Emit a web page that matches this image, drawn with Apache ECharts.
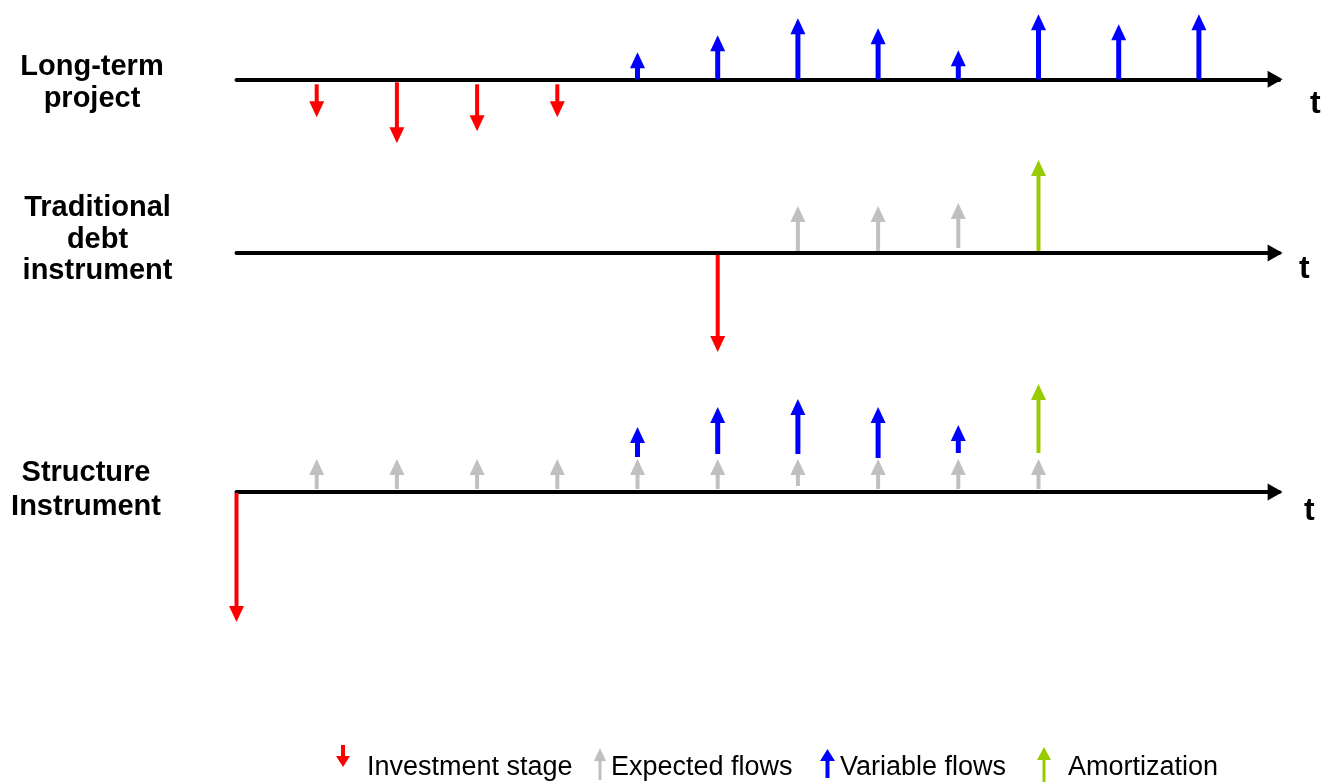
<!DOCTYPE html>
<html>
<head>
<meta charset="utf-8">
<script src="https://cdn.jsdelivr.net/npm/echarts@6/dist/echarts.min.js"></script>
<style>html,body{margin:0;padding:0;background:#fff;}#chart{width:1326px;height:783px;}</style>
</head>
<body>
<div id="chart"></div>
<script>
// ---- data: each arrow is [period, start value, end value] ----
const panelLabels = ['Long-term\nproject', 'Traditional\ndebt\ninstrument', 'Structure\nInstrument'];
const legendNames = ['Investment stage', 'Expected flows', 'Variable flows', 'Amortization'];
const axisName = 't';

const projectInvestment = [[1, -0.5, -3.8], [2, -0.3, -6.4], [3, -0.5, -5.2], [4, -0.5, -3.8]];
const projectVariable = [[5, 0, 2.7], [6, 0, 4.4], [7, 0, 6.1], [8, 0, 5.1], [9, 0, 2.9], [10, 0, 6.5], [11, 0, 5.5], [12, 0, 6.5]];

const debtInvestment = [[6, -0.2, -9.9]];
const debtExpected = [[7, 0.2, 4.7], [8, 0.2, 4.7], [9, 0.5, 5.0]];
const debtAmortization = [[10, 0.2, 9.3]];

const structInvestment = [[0, -0.1, -13.0]];
const structExpected = [[1, 0.3, 3.3], [2, 0.3, 3.3], [3, 0.3, 3.3], [4, 0.3, 3.3], [5, 0.3, 3.3], [6, 0.3, 3.3], [7, 0.6, 3.3], [8, 0.3, 3.3], [9, 0.3, 3.3], [10, 0.3, 3.3]];
const structVariable = [[5, 3.5, 6.5], [6, 3.8, 8.5], [7, 3.8, 9.3], [8, 3.4, 8.5], [9, 3.9, 6.7]];
const structAmortization = [[10, 3.9, 10.8]];

// ---- styling ----
const colors = { 'Investment stage': '#ff0000', 'Expected flows': '#c0c0c0', 'Variable flows': '#0000ff', 'Amortization': '#99cc00' };
const shaftWidths = { 'Investment stage': 4, 'Expected flows': 4, 'Variable flows': 5, 'Amortization': 4 };
const HEAD_LEN = 16, HEAD_W = 15;

function renderArrow(params, api) {
  const name = params.seriesName;
  const color = colors[name];
  const x = api.value(0), a = api.value(1), b = api.value(2);
  const p0 = api.coord([x, a]);
  const p1 = api.coord([x, b]);
  const dir = p1[1] > p0[1] ? 1 : -1;
  const baseY = p1[1] - dir * HEAD_LEN;
  return {
    type: 'group',
    children: [
      { type: 'line', shape: { x1: p0[0], y1: p0[1], x2: p1[0], y2: baseY + dir * 1 }, style: { stroke: color, lineWidth: shaftWidths[name] } },
      { type: 'polygon', shape: { points: [[p1[0], p1[1]], [p1[0] - HEAD_W / 2, baseY], [p1[0] + HEAD_W / 2, baseY]] }, style: { fill: color } }
    ]
  };
}

function arrowSeries(name, panel, data) {
  return {
    type: 'custom', name: name, xAxisIndex: panel, yAxisIndex: panel,
    itemStyle: { color: colors[name] },
    renderItem: renderArrow, data: data, silent: true
  };
}

const GRID_LEFT = 236.5, GRID_RIGHT = 46.9;
const grids = [
  { left: GRID_LEFT, right: GRID_RIGHT, top: 9.3, height: 140 },
  { left: GRID_LEFT, right: GRID_RIGHT, top: 153, height: 210 },
  { left: GRID_LEFT, right: GRID_RIGHT, top: 382, height: 250 }
];
const yRanges = [[-7, 7], [-11, 10], [-14, 11]];
const nameGaps = [31, 20, 25];
const namePads = [49, 32, 38];

const legendDefs = [
  { name: 'Investment stage', left: 336, top: 730.5, w: 14, h: 22, icon: 'path://M5,0 L9,0 L9,11 L14,11 L7,22 L0,11 L5,11 Z', pad: [24, 0, 0, 12] },
  { name: 'Expected flows', left: 594, top: 746.5, w: 12, h: 32, icon: 'path://M6,0 L12,13 L7.5,13 L7.5,32 L4.5,32 L4.5,13 L0,13 Z', pad: [8, 0, 0, 0] },
  { name: 'Variable flows', left: 820, top: 745.5, w: 15, h: 29, icon: 'path://M7.5,0 L15,12 L9.5,12 L9.5,29 L5.5,29 L5.5,12 L0,12 Z', pad: [9, 0, 0, 0] },
  { name: 'Amortization', left: 1037, top: 747, w: 14, h: 35, icon: 'path://M7,0 L14,13 L8.5,13 L8.5,35 L5.5,35 L5.5,13 L0,13 Z', pad: [7, 0, 0, 12] }
];

const labelPos = [[92, 83, 32], [97.5, 239.5, 31.5], [86, 490, 33.5]];

const option = {
  backgroundColor: '#ffffff',
  animation: false,
  grid: grids.map(g => Object.assign({ outerBoundsMode: 'none', containLabel: false }, g)),
  xAxis: grids.map((g, i) => ({
    gridIndex: i, type: 'value', min: 0, max: 13,
    axisLine: { show: true, onZero: true, symbol: ['none', 'triangle'], symbolSize: [17, 15], symbolOffset: [0, -4], lineStyle: { color: '#000', width: 4 } },
    axisTick: { show: false }, axisLabel: { show: false }, splitLine: { show: false },
    name: '{t|' + axisName + '}', nameLocation: 'end', nameGap: nameGaps[i],
    nameTextStyle: {
      verticalAlign: 'middle',
      rich: { t: { fontFamily: 'Liberation Sans', fontWeight: 'bold', fontSize: 32, lineHeight: 32, color: '#000', padding: [namePads[i], 0, 0, 0] } }
    }
  })),
  yAxis: grids.map((g, i) => ({
    gridIndex: i, type: 'value', min: yRanges[i][0], max: yRanges[i][1], show: false, splitLine: { show: false }
  })),
  legend: legendDefs.map(d => ({
    data: [d.name], left: d.left, top: d.top, padding: 0, itemGap: 0,
    icon: d.icon, itemWidth: d.w, itemHeight: d.h,
    formatter: '{n|{name}}',
    textStyle: { rich: { n: { fontFamily: 'Liberation Sans', fontSize: 27, lineHeight: 27, color: '#000', padding: d.pad } } }
  })),
  graphic: panelLabels.map((t, i) => ({
    type: 'text', x: labelPos[i][0], y: labelPos[i][1], silent: true,
    style: { text: t, align: 'center', verticalAlign: 'middle', lineHeight: labelPos[i][2], fill: '#000', font: 'bold 29px "Liberation Sans"' }
  })),
  series: [
    arrowSeries('Investment stage', 0, projectInvestment),
    arrowSeries('Variable flows', 0, projectVariable),
    arrowSeries('Investment stage', 1, debtInvestment),
    arrowSeries('Expected flows', 1, debtExpected),
    arrowSeries('Amortization', 1, debtAmortization),
    arrowSeries('Investment stage', 2, structInvestment),
    arrowSeries('Expected flows', 2, structExpected),
    arrowSeries('Variable flows', 2, structVariable),
    arrowSeries('Amortization', 2, structAmortization)
  ]
};

const chart = echarts.init(document.getElementById('chart'), null, { renderer: 'canvas' });
chart.setOption(option);
</script>
</body>
</html>
